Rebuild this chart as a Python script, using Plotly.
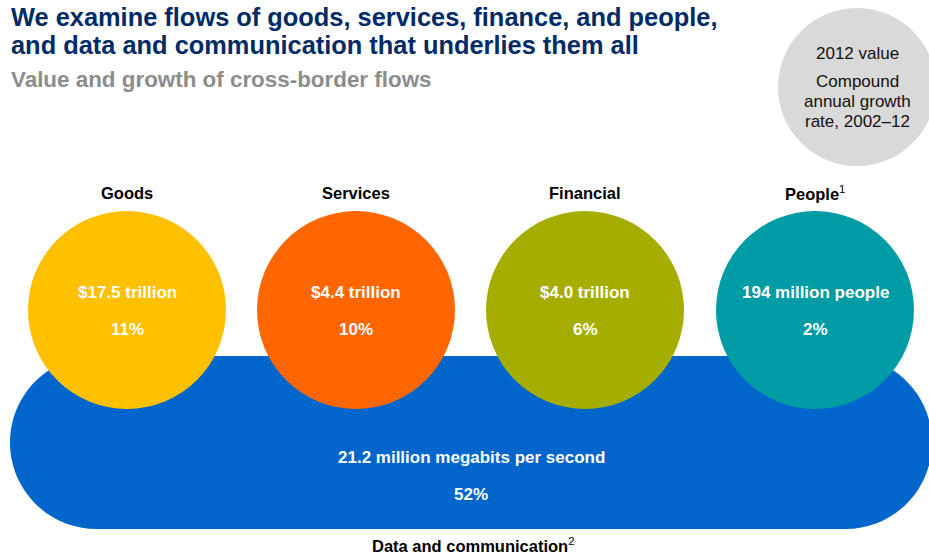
import plotly.graph_objects as go

# Cross-border flows, 2012 value and compound annual growth 2002-12
categories = ["Goods", "Services", "Financial", "People"]
superscripts = ["", "", "", "1"]
values = [17.5, 4.4, 4.0, 194]
units = ["trillion", "trillion", "trillion", "million people"]
prefixes = ["$", "$", "$", ""]
growth = [11, 10, 6, 2]
colors = ["#FFC000", "#FF6600", "#A5AE00", "#009CA6"]

data_name = "Data and communication"
data_value = 21.2
data_unit = "million megabits per second"
data_growth = 52
data_color = "#0066CC"

legend_lines = ["2012 value", "Compound", "annual growth", "rate, 2002–12"]

W, H = 929, 556
FONT = "Liberation Sans, Arial, sans-serif"

# layout geometry (pixel space)
cx = [127, 356, 585, 815]
cy = 310
r = 99
band = dict(x0=10, x1=932, y0=356, y1=529)

fig = go.Figure()
fig.add_trace(go.Scatter(x=[0, W], y=[0, H], mode="markers",
                         marker=dict(opacity=0), hoverinfo="skip", showlegend=False))

shapes = []

# rounded band for data and communication
x0, x1, y0, y1 = band["x0"], band["x1"], band["y0"], band["y1"]
rr = (y1 - y0) / 2
k = 0.5523 * rr
path = (
    f"M {x0 + rr},{y0} L {x1 - rr},{y0} "
    f"C {x1 - rr + k},{y0} {x1},{y0 + rr - k} {x1},{y0 + rr} "
    f"C {x1},{y0 + rr + k} {x1 - rr + k},{y1} {x1 - rr},{y1} "
    f"L {x0 + rr},{y1} "
    f"C {x0 + rr - k},{y1} {x0},{y0 + rr + k} {x0},{y0 + rr} "
    f"C {x0},{y0 + rr - k} {x0 + rr - k},{y0} {x0 + rr},{y0} Z"
)
shapes.append(dict(type="path", path=path, fillcolor=data_color,
                   line=dict(width=0), layer="above"))

for x, c in zip(cx, colors):
    shapes.append(dict(type="circle", x0=x - r, x1=x + r, y0=cy - r, y1=cy + r,
                       fillcolor=c, line=dict(width=0), layer="above"))

# key bubble
shapes.append(dict(type="circle", x0=857 - 79, x1=857 + 79, y0=87 - 79, y1=87 + 79,
                   fillcolor="#D9D9D9", line=dict(width=0), layer="above"))

ann = []

def text(x, y, s, size, color, bold=False, xanchor="center"):
    if bold:
        s = f"<b>{s}</b>"
    ann.append(dict(x=x, y=y, text=s, showarrow=False, xanchor=xanchor, yanchor="middle",
                    font=dict(family=FONT, size=size, color=color)))

text(9, 17, "We examine flows of goods, services, finance, and people,", 25.4, "#002B66", True, "left")
text(9, 45, "and data and communication that underlies them all", 25.4, "#002B66", True, "left")
text(9, 79, "Value and growth of cross-border flows", 22.4, "#8C8C8C", True, "left")

for yy, line in zip([53, 81, 101, 121], legend_lines):
    text(857, yy, line, 17, "#111111")

for x, cat, sup, v, u, p, g in zip(cx, categories, superscripts, values, units, prefixes, growth):
    label = f"<b>{cat}</b>" + (f"<sup>{sup}</sup>" if sup else "")
    ann.append(dict(x=x, y=193, text=label, showarrow=False, xanchor="center", yanchor="middle",
                    font=dict(family=FONT, size=16.5, color="#000000")))
    vs = f"{v:g}" if v >= 10 and float(v).is_integer() else f"{v:.1f}"
    text(x, 292, f"{p}{vs} {u}", 17, "#FFFFFF", True)
    text(x, 329, f"{g}%", 17, "#FFFFFF", True)

text(471, 457, f"{data_value:.1f} {data_unit}", 17, "#FFFFFF", True)
text(471, 494, f"{data_growth}%", 17, "#FFFFFF", True)
ann.append(dict(x=473, y=545, text=f"<b>{data_name}</b><sup>2</sup>", showarrow=False,
                xanchor="center", yanchor="middle",
                font=dict(family=FONT, size=16.5, color="#000000")))

fig.update_layout(
    width=W, height=H,
    margin=dict(l=0, r=0, t=0, b=0),
    paper_bgcolor="white", plot_bgcolor="white",
    xaxis=dict(range=[0, W], visible=False, fixedrange=True),
    yaxis=dict(range=[H, 0], visible=False, fixedrange=True),
    shapes=shapes, annotations=ann, showlegend=False,
)

fig.write_html("out.html")
